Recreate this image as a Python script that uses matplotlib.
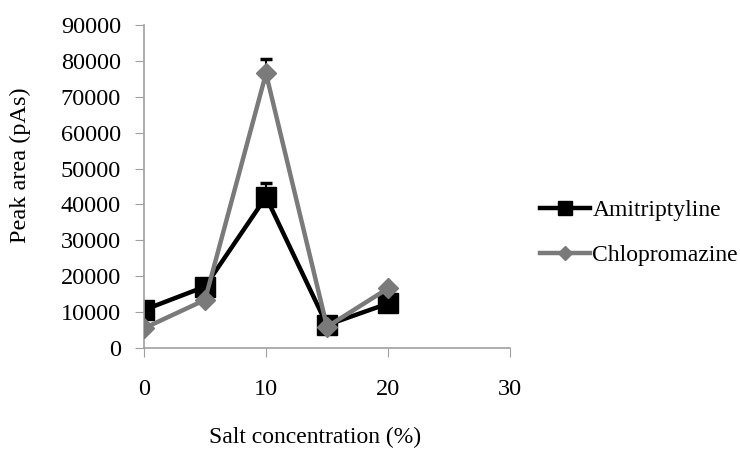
import matplotlib
matplotlib.use("Agg")
import matplotlib.pyplot as plt
from matplotlib.lines import Line2D

salt = [0, 5, 10, 15, 20]
amitriptyline = [10600, 17100, 42100, 6400, 12400]
amitriptyline_err = [0, 0, 4000, 0, 0]
chlopromazine = [5500, 13400, 76500, 5900, 16600]
chlopromazine_err = [0, 0, 4000, 0, 0]
xticks = [0, 10, 20, 30]
yticks = list(range(0, 90001, 10000))

plt.rcParams['font.family'] = ['Liberation Serif', 'DejaVu Serif']

fig = plt.figure(figsize=(7.4, 4.49), dpi=100)
ax = fig.add_axes([144/740, 1-348/449, (510-144)/740, (348-25)/449])

ax.errorbar(salt, amitriptyline, yerr=[[0]*5, amitriptyline_err], color='black', lw=3.2,
            marker='s', ms=14, capsize=4, elinewidth=1.5, capthick=2.5, ecolor='black',
            zorder=2)
ax.errorbar(salt, chlopromazine, yerr=[[0]*5, chlopromazine_err], color='#7a7a7a', lw=3.2,
            marker='D', ms=10.5, capsize=4, elinewidth=1.5, capthick=2.5, ecolor='black',
            zorder=3)

ax.set_xlim(0, 30)
ax.set_ylim(0, 90000)
ax.set_xticks(xticks)
ax.set_yticks(yticks)
ax.tick_params(axis='x', direction='out', length=6.5, color='#a0a0a0', pad=16, labelsize=17.5)
ax.tick_params(axis='y', direction='out', length=6.5, color='#a0a0a0', pad=10, labelsize=17.5)
for s in ['top', 'right']:
    ax.spines[s].set_visible(False)
for s in ['left', 'bottom']:
    ax.spines[s].set_color('#a0a0a0')
    ax.spines[s].set_linewidth(1.2)

fig.text(315/740, 1-437/449, 'Salt concentration (%)', fontsize=17, ha='center', va='center')
fig.text(20/740, 1-165/449, 'Peak area (pAs)', fontsize=17.5, ha='center', va='center',
         rotation=90)

handles = [
    Line2D([], [], color='black', lw=3.2, marker='s', ms=10),
    Line2D([], [], color='#7a7a7a', lw=3.2, marker='D', ms=7.5),
]
labels = ['Amitriptyline', 'Chlopromazine']
fig.legend(handles, labels, loc='center left', bbox_to_anchor=(531/740, 1-233/449), frameon=False,
           fontsize=17, handlelength=2.1, handletextpad=0.1, labelspacing=1.0,
           borderaxespad=0)

fig.savefig('out.png', dpi=100)
